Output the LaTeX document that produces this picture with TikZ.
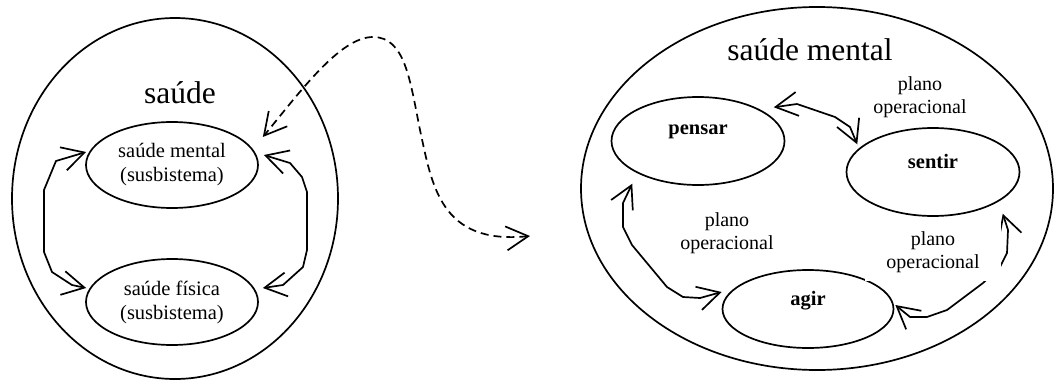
\documentclass[tikz,border=0pt]{standalone}
\usepackage{fontspec}
\setmainfont{Liberation Serif}
\usepackage{tikz}
\usetikzlibrary{arrows.meta,shapes.geometric,positioning}

\begin{document}
\begin{tikzpicture}[x=1pt,y=-1pt]
  \tikzset{
    system/.style={draw, ellipse, line width=1.7pt, inner sep=0pt},
    sub/.style={draw, ellipse, line width=1.7pt, minimum width=172pt, minimum height=86pt, align=center, font=\fontsize{20.5}{24}\selectfont},
    act/.style={draw, ellipse, line width=1.7pt, minimum width=173pt, minimum height=88pt, text depth=22pt, font=\fontsize{20.5}{24}\selectfont\bfseries},
    title/.style={font=\fontsize{31.5}{36}\selectfont},
    note/.style={align=center, font=\fontsize{20}{23}\selectfont},
    line/.style={draw, line width=1.7pt, {Straight Barb[length=22pt,width=24pt]}-{Straight Barb[length=22pt,width=24pt]}},
    link/.style={line, dash pattern=on 8pt off 5pt}
  }
  \useasboundingbox (0,0) rectangle (1054,380);
  % saude
  \node [system, minimum width=326pt, minimum height=361pt] (health) at (175,198.5) {};
  \node [title] (htitle) at (180,93) {saúde};
  \node [sub] (mental) at (172,165) {saúde mental\\(susbistema)};
  \node [sub, below of = mental, node distance=137pt] (physical) {saúde física\\(susbistema)};

  \path [line] ([shift={(1,-13)}]mental.west) -- (56,161) -- (44,190) -- (44,252) -- (52,272) -- (72,285) -- ([shift={(1,-14)}]physical.west);
  \path [line] ([shift={(5,-10)}]mental.east) -- (290,163) -- (302,177) -- (307,192) -- (307,250) -- (303,267) -- (283,285) -- ([shift={(4,-14)}]physical.east);

  % saude mental
  \node [system, minimum width=472pt, minimum height=363pt] (mind) at (817,188.5) {};
  \node [title] (mtitle) at (810,50) {saúde mental};
  \node [act] (think) at (698,141) {pensar};
  \node [act] (feel) at (933,172) {sentir};
  \node [act, minimum height=78pt, minimum width=171pt] (act) at (808,309) {agir};

  \path [line] ([shift={(14,-2)}]think.north east) -- (797,104) -- (835,117) -- (850,127) -- ([shift={(-14,4)}]feel.north west);
  \path [line] ([shift={(-4,11)}]think.south west) -- (623,203) -- (623,227) -- (632,245) -- (667,287) -- (683,297) -- (700,298) -- ([shift={(0,-17)}]act.west);
  \path [line] ([shift={(8,10)}]feel.south east) -- (1008,230) -- (1007,253) -- (1000,267) -- (983,283) -- (947,310) -- (927,317) -- (910,317) -- ([shift={(1,-4)}]act.east);

  \node [note] (plan1) at (920,97) {plano\\operacional};
  \node [note] (plan2) at (727,233) {plano\\operacional};
  \node [note, fill=white, inner xsep=21pt, inner ysep=8pt] (plan3) at (933,252) {plano\\operacional};

  % link between the two
  \coordinate (zoomend) at (530,236);
  \path [link] (zoomend) .. controls (440,245) and (432,185) .. (420,130) .. controls (410,80) and (405,37) .. (373,37) .. controls (340,37) and (300,92) .. ([shift={(4,-28)}]mental.east);
\end{tikzpicture}
\end{document}
